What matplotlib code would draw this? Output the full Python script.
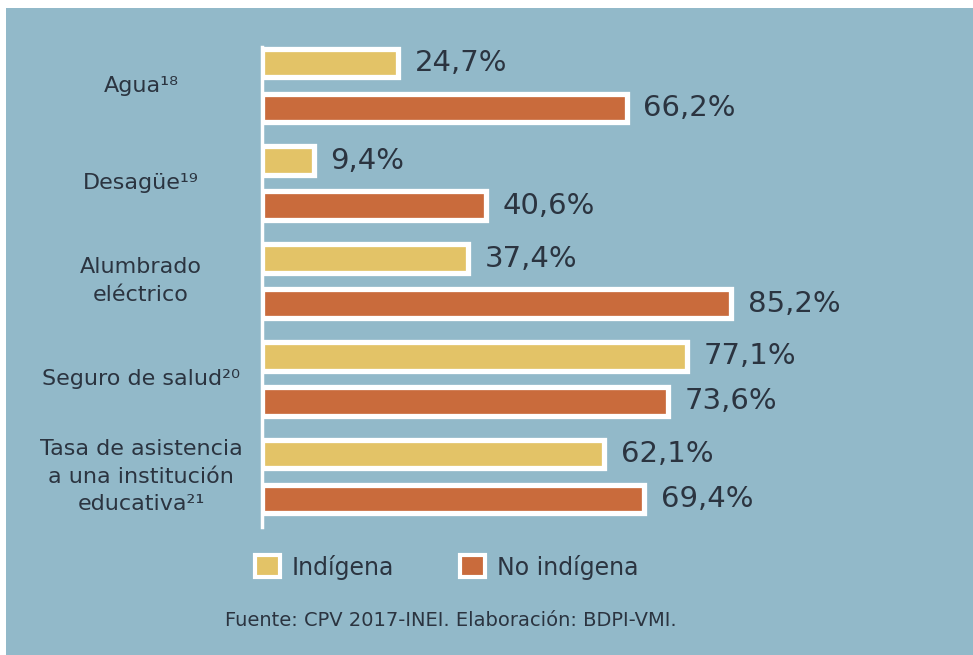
import matplotlib.pyplot as plt
from matplotlib.patches import Rectangle, Patch

# datos (porcentaje de hogares / poblacion)
categorias = ["Agua¹⁸", "Desagüe¹⁹", "Alumbrado\neléctrico", "Seguro de salud²⁰",
              "Tasa de asistencia\na una institución\neducativa²¹"]
indigena = [24.7, 9.4, 37.4, 77.1, 62.1]
no_indigena = [66.2, 40.6, 85.2, 73.6, 69.4]
etiquetas_ind = ["24,7%", "9,4%", "37,4%", "77,1%", "62,1%"]
etiquetas_no_ind = ["66,2%", "40,6%", "85,2%", "73,6%", "69,4%"]

color_fondo = "#92b9c9"
color_ind = "#e3c367"
color_no_ind = "#c96b3c"
color_texto = "#2b3440"

plt.rcParams['font.family'] = ['DejaVu Sans']

fig = plt.figure(figsize=(9.73, 6.55), dpi=100, facecolor="white")
# fondo azulado con un pequeño margen blanco arriba y a la izquierda
fig.patches.append(Rectangle((6 / 973, 0), 1, 1 - 8 / 655, transform=fig.transFigure,
                             facecolor=color_fondo, edgecolor="none", zorder=-10))

ax = fig.add_axes([262 / 973, 1 - 530 / 655, 551 / 973, 500 / 655])
ax.set_zorder(2)
ax.set_facecolor("none")

pos = list(range(len(categorias)))
desp = 0.23
alto = 0.295

ax.barh([p - desp for p in pos], indigena, height=alto, color=color_ind,
        edgecolor="white", linewidth=3.8)
ax.barh([p + desp for p in pos], no_indigena, height=alto, color=color_no_ind,
        edgecolor="white", linewidth=3.8)

# etiquetas de valor
for p, v, t in zip(pos, indigena, etiquetas_ind):
    ax.annotate(t, (v, p - desp), xytext=(12, 0), textcoords="offset points",
                va="center", ha="left", fontsize=21, color=color_texto)
for p, v, t in zip(pos, no_indigena, etiquetas_no_ind):
    ax.annotate(t, (v, p + desp), xytext=(12, 0), textcoords="offset points",
                va="center", ha="left", fontsize=21, color=color_texto)

# nombres de categorias centrados a la izquierda
for p, c in zip(pos, categorias):
    ax.text(-0.2196, p, c, transform=ax.get_yaxis_transform(), ha="center", va="center",
            multialignment="center", fontsize=16, color=color_texto, linespacing=1.45)

ax.set_xlim(0, 100)
ax.set_ylim(4.547, -0.568)
ax.set_xticks([])
ax.set_yticks([])
for s in ["top", "right", "bottom"]:
    ax.spines[s].set_visible(False)
ax.spines["left"].set_color("white")
ax.spines["left"].set_linewidth(2.5)
ax.spines["left"].set_bounds(-0.394, 4.515)

# leyenda
handles = [Patch(facecolor=color_ind, edgecolor="white", linewidth=3, label="Indígena"),
           Patch(facecolor=color_no_ind, edgecolor="white", linewidth=3, label="No indígena")]
fig.legend(handles=handles, loc="center left", bbox_to_anchor=(255 / 973, 1 - 567 / 655),
           ncol=2, frameon=False, fontsize=17, handlelength=1.05, handleheight=1.05,
           handletextpad=0.5, columnspacing=2.8, borderpad=0, borderaxespad=0,
           labelcolor=color_texto)

fig.text(451 / 973, 1 - 620 / 655, "Fuente: CPV 2017-INEI. Elaboración: BDPI-VMI.",
         ha="center", va="center", fontsize=14, color=color_texto)

fig.savefig("out.png", dpi=100, facecolor=fig.get_facecolor())
